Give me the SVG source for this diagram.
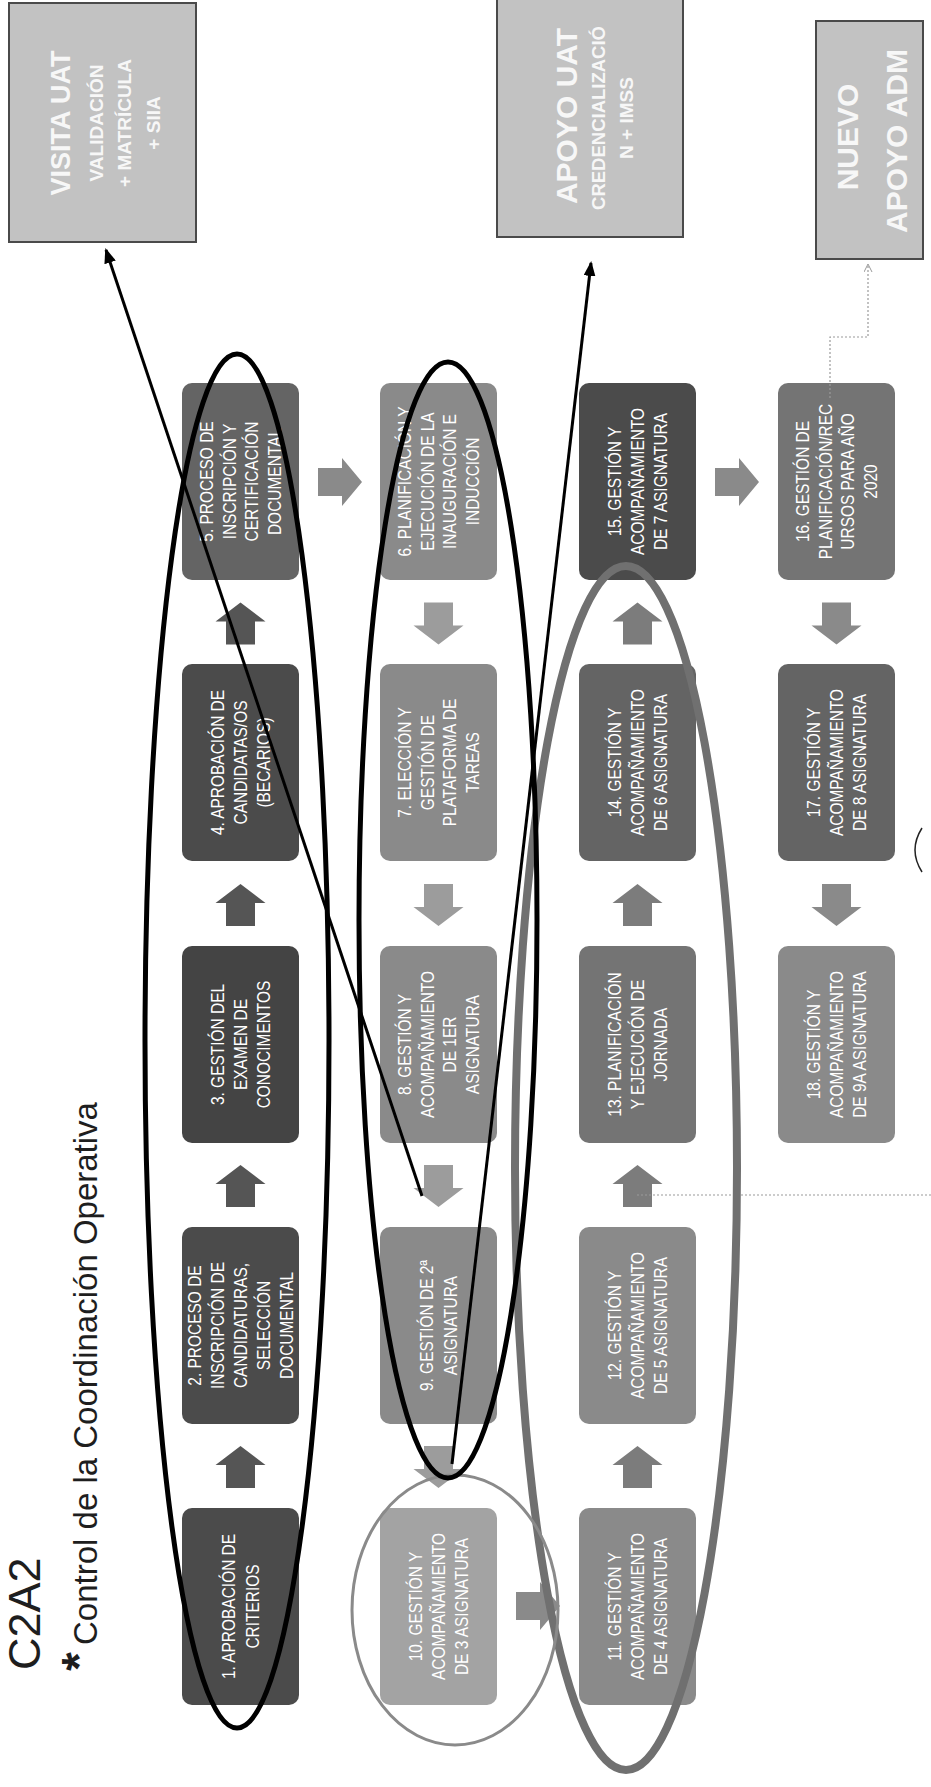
<svg xmlns="http://www.w3.org/2000/svg" width="931" height="1787" viewBox="0 0 931 1787">
<style>
.bt{font-family:"Liberation Sans",Arial,sans-serif;font-size:18px;fill:#ffffff;text-anchor:middle}
.tb{font-family:"Liberation Sans",Arial,sans-serif;font-weight:bold;fill:#f7f7f7;text-anchor:middle}
.ttl{font-family:"Liberation Sans",Arial,sans-serif;fill:#1e1e1e}
.top{fill:#c2c2c2;stroke:#4a4a4a;stroke-width:2}
.s1{fill:#4b4b4b}.s2{fill:#646464}.s3{fill:#747474}.s4{fill:#8a8a8a}.s5{fill:#a3a3a3}.s0{fill:#444444}
.a1{fill:#555555}.a2{fill:#9c9c9c}.a3{fill:#7c7c7c}.a4{fill:#8a8a8a}
.oblk{fill:none;stroke:#000000;stroke-width:5}
.ogry{fill:none;stroke:#707070;stroke-width:8}
.ocir{fill:none;stroke:#8a8a8a;stroke-width:3}
.ln{stroke:#000000;stroke-width:3;fill:none}
.dot{stroke:#9a9a9a;stroke-width:1.2;fill:none;stroke-dasharray:2 2}
</style>
<defs>
<path id="up" d="M0,-21 L25,-2 L14.5,-2 L14.5,21 L-14.5,21 L-14.5,-2 L-25,-2 Z"/>
<path id="dn" d="M0,21 L25,2 L14.5,2 L14.5,-21 L-14.5,-21 L-14.5,2 L-25,2 Z"/>
<path id="rt" d="M22,0 L2,-24 L2,-14 L-22,-14 L-22,14 L2,14 L2,24 Z"/>
<marker id="ah" markerWidth="16" markerHeight="12" refX="13" refY="6" orient="auto" markerUnits="userSpaceOnUse"><path d="M0,0 L15,6 L0,12 Z" fill="#000000"/></marker>
<marker id="ahs" markerWidth="10" markerHeight="10" refX="8" refY="4" orient="auto" markerUnits="userSpaceOnUse"><path d="M0,0 L8,4 L0,8" fill="none" stroke="#9a9a9a" stroke-width="1"/></marker>
</defs>
<rect x="0" y="0" width="931" height="1787" fill="#ffffff"/>

<g id="title">
<text class="ttl" font-size="45" transform="translate(40,1670) rotate(-90)">C2A2</text>
<text class="ttl" font-size="48" font-weight="bold" transform="translate(95,1671) rotate(-90)">*</text>
<text class="ttl" font-size="33" transform="translate(97,1645) rotate(-90)">Control de la Coordinación Operativa</text>
</g>

<g id="n1"><rect class="s1" x="182" y="1508" width="117" height="197" rx="10"/>
<g class="bt" transform="translate(240.5,1606.5) rotate(-90) scale(0.86,1)"><text y="-6">1. APROBACIÓN DE</text><text y="19">CRITERIOS</text></g></g>
<g id="n2"><rect class="s1" x="182" y="1227" width="117" height="197" rx="10"/>
<g class="bt" transform="translate(240.5,1325.5) rotate(-90) scale(0.86,1)"><text y="-39.5">2. PROCESO DE</text><text y="-16.5">INSCRIPCIÓN DE</text><text y="6.5">CANDIDATURAS,</text><text y="29.5">SELECCIÓN</text><text y="52.5">DOCUMENTAL</text></g></g>
<g id="n3"><rect class="s0" x="182" y="946" width="117" height="197" rx="10"/>
<g class="bt" transform="translate(240.5,1044.5) rotate(-90) scale(0.86,1)"><text y="-17">3. GESTIÓN DEL</text><text y="6.5">EXAMEN DE</text><text y="30">CONOCIMENTOS</text></g></g>
<g id="n4"><rect class="s1" x="182" y="664" width="117" height="197" rx="10"/>
<g class="bt" transform="translate(240.5,762.5) rotate(-90) scale(0.86,1)"><text y="-17">4. APROBACIÓN DE</text><text y="6.5">CANDIDATAS/OS</text><text y="30">(BECARIOS)</text></g></g>
<g id="n5"><rect class="s2" x="182" y="383" width="117" height="197" rx="10"/>
<g class="bt" transform="translate(240.5,481.5) rotate(-90) scale(0.86,1)"><text y="-28">5. PROCESO DE</text><text y="-5">INSCRIPCIÓN Y</text><text y="18">CERTIFICACIÓN</text><text y="41">DOCUMENTAL</text></g></g>

<g id="n6"><rect class="s4" x="380" y="383" width="117" height="197" rx="10"/>
<g class="bt" transform="translate(438.5,481.5) rotate(-90) scale(0.86,1)"><text y="-28">6. PLANIFICACIÓN Y</text><text y="-5">EJECUCIÓN DE LA</text><text y="18">INAUGURACIÓN E</text><text y="41">INDUCCIÓN</text></g></g>
<g id="n7"><rect class="s4" x="380" y="664" width="117" height="197" rx="10"/>
<g class="bt" transform="translate(438.5,762.5) rotate(-90) scale(0.86,1)"><text y="-28">7. ELECCIÓN Y</text><text y="-5">GESTIÓN DE</text><text y="18">PLATAFORMA DE</text><text y="41">TAREAS</text></g></g>
<g id="n8"><rect class="s4" x="380" y="946" width="117" height="197" rx="10"/>
<g class="bt" transform="translate(438.5,1044.5) rotate(-90) scale(0.86,1)"><text y="-28">8. GESTIÓN Y</text><text y="-5">ACOMPAÑAMIENTO</text><text y="18">DE 1ER</text><text y="41">ASIGNATURA</text></g></g>
<g id="n9"><rect class="s4" x="380" y="1227" width="117" height="197" rx="10"/>
<g class="bt" transform="translate(438.5,1325.5) rotate(-90) scale(0.86,1)"><text y="-6">9. GESTIÓN DE 2ª</text><text y="19">ASIGNATURA</text></g></g>
<g id="n10"><rect class="s5" x="380" y="1508" width="117" height="197" rx="10"/>
<g class="bt" transform="translate(438.5,1606.5) rotate(-90) scale(0.86,1)"><text y="-17">10. GESTIÓN Y</text><text y="6.5">ACOMPAÑAMIENTO</text><text y="30">DE 3 ASIGNATURA</text></g></g>

<g id="n11"><rect class="s4" x="579" y="1508" width="117" height="197" rx="10"/>
<g class="bt" transform="translate(637.5,1606.5) rotate(-90) scale(0.86,1)"><text y="-17">11. GESTIÓN Y</text><text y="6.5">ACOMPAÑAMIENTO</text><text y="30">DE 4 ASIGNATURA</text></g></g>
<g id="n12"><rect class="s4" x="579" y="1227" width="117" height="197" rx="10"/>
<g class="bt" transform="translate(637.5,1325.5) rotate(-90) scale(0.86,1)"><text y="-17">12. GESTIÓN Y</text><text y="6.5">ACOMPAÑAMIENTO</text><text y="30">DE 5 ASIGNATURA</text></g></g>
<g id="n13"><rect class="s3" x="579" y="946" width="117" height="197" rx="10"/>
<g class="bt" transform="translate(637.5,1044.5) rotate(-90) scale(0.86,1)"><text y="-17">13. PLANIFICACIÓN</text><text y="6.5">Y EJECUCIÓN DE</text><text y="30">JORNADA</text></g></g>
<g id="n14"><rect class="s2" x="579" y="664" width="117" height="197" rx="10"/>
<g class="bt" transform="translate(637.5,762.5) rotate(-90) scale(0.86,1)"><text y="-17">14. GESTIÓN Y</text><text y="6.5">ACOMPAÑAMIENTO</text><text y="30">DE 6 ASIGNATURA</text></g></g>
<g id="n15"><rect class="s1" x="579" y="383" width="117" height="197" rx="10"/>
<g class="bt" transform="translate(637.5,481.5) rotate(-90) scale(0.86,1)"><text y="-17">15. GESTIÓN Y</text><text y="6.5">ACOMPAÑAMIENTO</text><text y="30">DE 7 ASIGNATURA</text></g></g>

<g id="n16"><rect class="s3" x="778" y="383" width="117" height="197" rx="10"/>
<g class="bt" transform="translate(836.5,481.5) rotate(-90) scale(0.86,1)"><text y="-28">16. GESTIÓN DE</text><text y="-5">PLANIFICACIÓN/REC</text><text y="18">URSOS PARA AÑO</text><text y="41">2020</text></g></g>
<g id="n17"><rect class="s2" x="778" y="664" width="117" height="197" rx="10"/>
<g class="bt" transform="translate(836.5,762.5) rotate(-90) scale(0.86,1)"><text y="-17">17. GESTIÓN Y</text><text y="6.5">ACOMPAÑAMIENTO</text><text y="30">DE 8 ASIGNATURA</text></g></g>
<g id="n18"><rect class="s4" x="778" y="946" width="117" height="197" rx="10"/>
<g class="bt" transform="translate(836.5,1044.5) rotate(-90) scale(0.86,1)"><text y="-17">18. GESTIÓN Y</text><text y="6.5">ACOMPAÑAMIENTO</text><text y="30">DE 9A ASIGNATURA</text></g></g>

<g id="visita"><rect class="top" x="9" y="3" width="187" height="239"/>
<text class="tb" font-size="27" transform="translate(70,123) rotate(-90)">VISITA UAT</text>
<text class="tb" font-size="19" transform="translate(103,123) rotate(-90)">VALIDACIÓN</text>
<text class="tb" font-size="19" transform="translate(131,123) rotate(-90)">+ MATRÍCULA</text>
<text class="tb" font-size="19" transform="translate(160,123) rotate(-90)">+ SIIA</text></g>
<g id="apoyo"><rect class="top" x="497" y="-2" width="186" height="239"/>
<text class="tb" font-size="30" transform="translate(577,116) rotate(-90)">APOYO UAT</text>
<text class="tb" font-size="18.5" transform="translate(605,118) rotate(-90)">CREDENCIALIZACIÓ</text>
<text class="tb" font-size="19" transform="translate(633,118) rotate(-90)">N + IMSS</text></g>
<g id="nuevo"><rect class="top" x="816" y="21" width="107" height="238"/>
<text class="tb" font-size="30" transform="translate(858,137) rotate(-90)">NUEVO</text>
<text class="tb" font-size="30" transform="translate(907,141) rotate(-90)">APOYO ADM</text></g>

<g id="connectors">
<use href="#up" class="a1" x="240.5" y="623.5"/><use href="#up" class="a1" x="240.5" y="905"/><use href="#up" class="a1" x="240.5" y="1186"/><use href="#up" class="a1" x="240.5" y="1467"/>
<use href="#dn" class="a2" x="438.5" y="623.5"/><use href="#dn" class="a2" x="438.5" y="905"/><use href="#dn" class="a2" x="438.5" y="1186"/><use href="#dn" class="a2" x="438.5" y="1467"/>
<use href="#up" class="a3" x="637.5" y="623.5"/><use href="#up" class="a3" x="637.5" y="905"/><use href="#up" class="a3" x="637.5" y="1186"/><use href="#up" class="a3" x="637.5" y="1467"/>
<use href="#dn" class="a4" x="836.5" y="623.5"/><use href="#dn" class="a4" x="836.5" y="905"/>
<use href="#rt" class="a4" x="340" y="482"/><use href="#rt" class="a4" x="538" y="1606"/><use href="#rt" class="a4" x="737" y="482"/>
<path class="dot" d="M830,398 L830,337 L868,337 L868,264" marker-end="url(#ahs)"/>
<path class="dot" d="M637,1195 L931,1195"/>
</g>

<g id="annotations">
<ellipse class="ogry" cx="626" cy="1168" rx="111" ry="602"/>
<ellipse class="ocir" cx="455" cy="1610" rx="103" ry="135"/>
<ellipse class="oblk" cx="237" cy="1041" rx="92" ry="687"/>
<ellipse class="oblk" cx="448" cy="920" rx="89" ry="558"/>
<path d="M922,828 Q908,850 922,872" fill="none" stroke="#222222" stroke-width="1.5"/>
</g>

<g id="links">
<path class="ln" d="M422,1196 L106,250" marker-end="url(#ah)"/>
<path class="ln" d="M452,1464 L591,263" marker-end="url(#ah)"/>
</g>
</svg>
